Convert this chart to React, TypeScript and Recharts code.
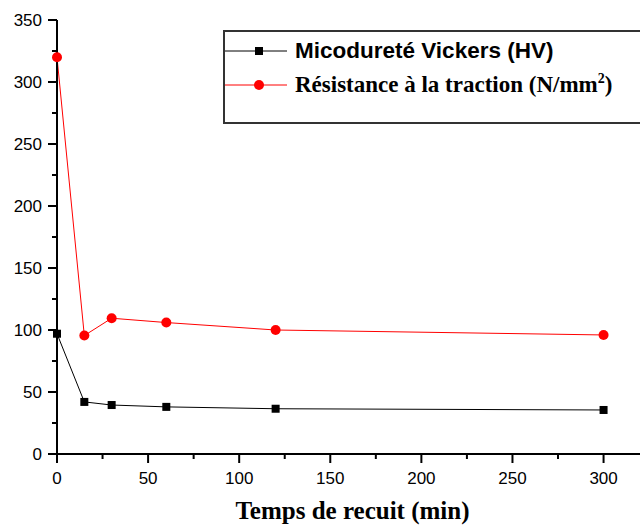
import React from 'react';
import { LineChart, Line, XAxis, YAxis } from 'recharts';

const times = [0, 15, 30, 60, 120, 300];
const hardness = [97, 42, 39.5, 38, 36.5, 35.5];
const tensile = [320, 95.5, 109.5, 106, 100, 96];
const xTicks = [0, 25, 50, 75, 100, 125, 150, 175, 200, 225, 250, 275, 300];
const yTicks = [0, 25, 50, 75, 100, 125, 150, 175, 200, 225, 250, 275, 300, 325, 350];
const hardnessName = 'Micodureté Vickers (HV)';
const tensileName = 'Résistance à la traction (N/mm';
const xTitle = 'Temps de recuit (min)';

const data = times.map((t, i) => ({ t, hv: hardness[i], rm: tensile[i] }));

const sans = '"Liberation Sans", Arial, sans-serif';
const serif = '"Liberation Serif", "Times New Roman", serif';

const YTick = ({ x, y, payload }: any) => {
  const major = payload.value % 50 === 0;
  return (
    <g>
      <line x1={x} x2={x - (major ? 9 : 5)} y1={y} y2={y} stroke="#000" strokeWidth={2} />
      {major && (
        <text x={x - 15} y={y} textAnchor="end" dominantBaseline="central" fontFamily={sans} fontSize={17} fill="#000">
          {payload.value}
        </text>
      )}
    </g>
  );
};

const XTick = ({ x, y, payload }: any) => {
  const major = payload.value % 50 === 0;
  return (
    <g>
      <line x1={x} x2={x} y1={y} y2={y + (major ? 9 : 5)} stroke="#000" strokeWidth={2} />
      {major && (
        <text x={x} y={y + 24} textAnchor="middle" dominantBaseline="central" fontFamily={sans} fontSize={17} fill="#000">
          {payload.value}
        </text>
      )}
    </g>
  );
};

const Square = ({ cx, cy }: any) => <rect x={cx - 4} y={cy - 4} width={8} height={8} fill="#000" />;
const Circle = ({ cx, cy }: any) => <circle cx={cx} cy={cy} r={5} fill="#ff0000" />;

const AxisTitle = ({ viewBox }: any) => (
  <text x={viewBox.x + viewBox.width / 2 + 4} y={viewBox.y + 56} textAnchor="middle" dominantBaseline="central"
    fontFamily={serif} fontWeight="bold" fontSize={25} fill="#000">
    {xTitle}
  </text>
);

const LegendRow = ({ color, shape, children }: any) => (
  <div style={{ display: 'flex', alignItems: 'center', height: 34 }}>
    <svg width={64} height={14} style={{ flexShrink: 0 }}>
      <line x1={0} x2={62} y1={7} y2={7} stroke={color} strokeWidth={1} />
      {shape === 'square' ? <rect x={30} y={3} width={8} height={8} fill={color} /> : <circle cx={34} cy={7} r={5} fill={color} />}
    </svg>
    <div style={{ marginLeft: 6, whiteSpace: 'nowrap' }}>{children}</div>
  </div>
);

export default function App() {
  return (
    <div style={{ position: 'absolute', left: 0, top: 0, width: 640, height: 526, overflow: 'hidden', background: '#fff' }}>
      <style>{'body{margin:0}'}</style>
      <LineChart width={640} height={526} data={data} margin={{ top: 20, right: 0, bottom: 0, left: 0 }}>
        <XAxis dataKey="t" type="number" domain={[0, 320]} ticks={xTicks} interval={0} height={72}
          tickSize={0} tickMargin={0} tickLine={false} tick={<XTick />} stroke="#000" strokeWidth={2}
          label={<AxisTitle />} />
        <YAxis type="number" domain={[0, 350]} ticks={yTicks} interval={0} width={57}
          tickSize={0} tickMargin={0} tickLine={false} tick={<YTick />} stroke="#000" strokeWidth={2} />
        <Line dataKey="hv" name={hardnessName} stroke="#000" strokeWidth={1} dot={<Square />} isAnimationActive={false} />
        <Line dataKey="rm" name={tensileName} stroke="#ff0000" strokeWidth={1} dot={<Circle />} isAnimationActive={false} />
      </LineChart>
      <div style={{ position: 'absolute', left: 223, top: 30, width: 430, height: 94, border: '2px solid #333', boxSizing: 'border-box', background: '#fff' }}>
        <div style={{ paddingTop: 2 }}>
          <LegendRow color="#000" shape="square">
            <span style={{ fontFamily: sans, fontWeight: 'bold', fontSize: 22.5 }}>{hardnessName}</span>
          </LegendRow>
          <LegendRow color="#ff0000" shape="circle">
            <span style={{ fontFamily: serif, fontWeight: 'bold', fontSize: 23 }}>
              {tensileName}<sup style={{ fontSize: 14, verticalAlign: 'top', lineHeight: 1 }}>2</sup>)
            </span>
          </LegendRow>
        </div>
      </div>
    </div>
  );
}
